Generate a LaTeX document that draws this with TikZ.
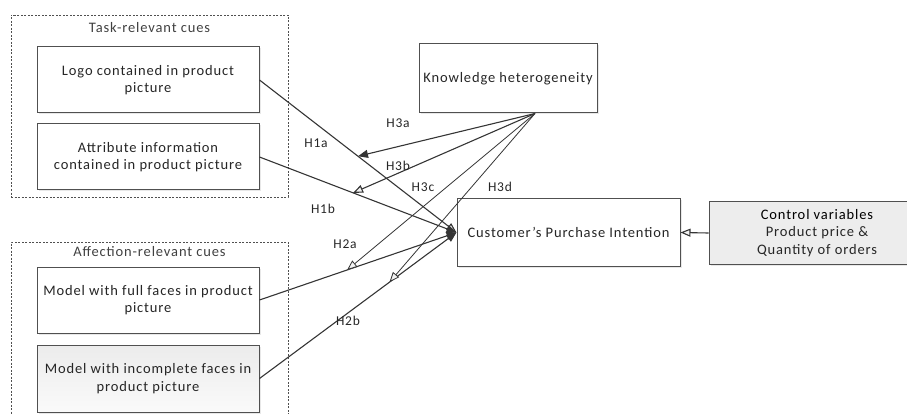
\documentclass[tikz,border=0pt]{standalone}
\usepackage{fontspec}
\setmainfont[LetterSpace=6]{Carlito}
\usetikzlibrary{arrows.meta,calc,shadows}
\definecolor{ln}{HTML}{353535}
\definecolor{bd}{HTML}{505050}
\definecolor{tx}{HTML}{262626}
\definecolor{ttl}{HTML}{404040}
\definecolor{fillg}{HTML}{EDEDED}
\tikzset{
  box/.style={draw=bd, line width=1pt, fill=white, align=center, inner sep=2pt, text=tx,
    font=\fontsize{14.5}{17.5}\selectfont,
    drop shadow={opacity=0.18, shadow xshift=1.5pt, shadow yshift=-1.5pt}},
  grp/.style={draw=bd, dash pattern=on 2pt off 1.5pt, line width=0.7pt, inner sep=0pt},
  grptitle/.style={text=ttl, font=\fontsize{14.5}{17.5}\selectfont, inner sep=0pt},
  lbl/.style={text=tx, font=\fontsize{13.5}{16}\selectfont, inner sep=0pt},
  conn/.style={draw=ln, line width=1.1pt},
  thin conn/.style={draw=ln, line width=0.8pt},
  opentip/.style={-{Triangle[length=10pt,width=8pt,fill=gray!10]}},
  solidtip/.style={-{Triangle[length=10pt,width=8pt]}}
}
\begin{document}
\begin{tikzpicture}[x=1pt,y=-1pt]
\useasboundingbox (0,0) rectangle (907,414);
% groups
\node[grp, minimum width=277pt, minimum height=182pt] (task) at (149.5,106) {};
\node[grptitle] (tasktitle) at (149.5,28) {Task-relevant cues};
\node[grp, minimum width=277pt, minimum height=190pt] (aff) at (149.5,337) {};
\node[grptitle] (afftitle) at (149.5,252) {Affection-relevant cues};
% boxes
\node[box, minimum width=222pt, minimum height=66pt] (logo) at (148,80) {Logo contained in product\\picture};
\node[box, minimum width=222pt, minimum height=66pt] (attr) at (148,157) {Attribute information\\contained in product picture};
\node[box, minimum width=222pt, minimum height=66pt] (full) at (148,300) {Model with full faces in product\\picture};
\node[box, minimum width=222pt, minimum height=67pt, top color=gray!15, bottom color=gray!4] (inc) at (148,378.5) {Model with incomplete faces in\\product picture};
\node[box, minimum width=178pt, minimum height=69pt] (know) at (508,78.5) {Knowledge heterogeneity};
\node[box, minimum width=223pt, minimum height=67pt] (cust) at (568.5,232.5) {Customer{\char"0027}s Purchase Intention};
\node[box, minimum width=216pt, minimum height=62pt, fill=fillg] (ctrl) at (817,233) {\textcolor{black}{Control variables}\\Product price \&\\Quantity of orders};
% main paths
\draw[conn, opentip] (logo.east) -- (cust.west);
\draw[conn, solidtip] (attr.east) -- (cust.west);
\draw[conn, solidtip] (full.east) -- (cust.west);
\draw[conn, solidtip] (inc.east) -- (cust.west);
\draw[conn, opentip] (ctrl.west) -- (cust.east);
% moderation targets
\path (logo.east) -- (cust.west) coordinate[pos=0.5] (m1);
\path (attr.east) -- (cust.west) coordinate[pos=0.475] (m2);
\path (full.east) -- (cust.west) coordinate[pos=0.445] (m3);
\path (inc.east) -- (cust.west) coordinate[pos=0.66] (m4);
\coordinate (kb) at ([xshift=27pt]know.south);
\draw[conn, solidtip] (kb) -- (m1);
\draw[conn, opentip] (kb) -- (m2);
\draw[thin conn, opentip] (kb) -- (m3);
\draw[thin conn, opentip] (kb) -- (m4);
% labels
\node[lbl] (h3a) at (398,123) {H3a};
\node[lbl] (h1a) at (316,143) {H1a};
\node[lbl] (h3b) at (398,166) {H3b};
\node[lbl] (h3c) at (423,187) {H3c};
\node[lbl] (h3d) at (500,187) {H3d};
\node[lbl] (h1b) at (323,209) {H1b};
\node[lbl] (h2a) at (345,244) {H2a};
\node[lbl] (h2b) at (348,321) {H2b};
\end{tikzpicture}
\end{document}
